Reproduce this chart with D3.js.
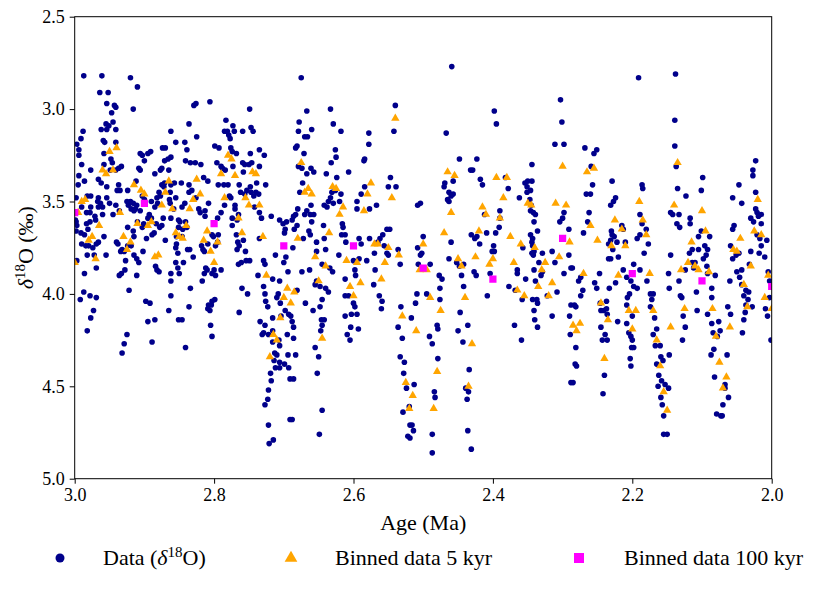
<!DOCTYPE html>
<html>
<head>
<meta charset="utf-8">
<script src="https://cdn.jsdelivr.net/npm/d3@7"></script>
<style>
  body { margin: 0; background: #fff; }
</style>
</head>
<body>
<svg id="chart" width="830" height="591"></svg>
<script>
// raw d18O record: [age (Ma), d18O (permil)]
var rawData = [
  [2.987,2.82],[2.961,2.82],[2.920,2.83],[2.910,2.88],[2.964,2.91],[2.952,2.91],[2.954,2.97],[2.943,2.98],[2.941,2.99],[2.947,3.02],
  [2.916,3.00],[2.945,3.07],[2.955,3.08],[2.951,3.09],[2.962,3.11],[2.954,3.11],[2.941,3.11],[2.988,3.12],[2.862,3.12],[2.991,3.16],
  [2.959,3.17],[2.957,3.18],[2.941,3.18],[2.997,3.19],[2.994,3.22],[2.994,3.25],[2.958,3.24],[2.948,3.27],[2.946,3.29],[2.906,3.24],
  [2.903,3.25],[2.891,3.23],[2.895,3.24],[2.874,3.21],[2.870,3.21],[2.862,3.26],[2.866,3.27],[2.871,3.28],[2.900,3.28],[2.990,3.30],
  [2.933,3.31],[2.937,3.32],[2.908,3.32],[2.906,3.33],[2.941,3.33],[2.949,3.33],[2.958,3.30],[2.977,3.33],[2.885,3.35],[2.877,3.33],
  [2.875,3.32],[2.865,3.33],[2.994,3.36],[2.986,3.39],[2.966,3.38],[2.962,3.40],[2.995,3.41],[2.954,3.42],[2.937,3.41],[2.935,3.44],
  [2.924,3.44],[2.939,3.44],[2.912,3.39],[2.875,3.41],[2.871,3.40],[2.872,3.42],[2.862,3.41],[2.863,3.45],[2.879,3.45],[2.882,3.48],
  [2.903,3.47],[2.900,3.49],[2.920,3.50],[2.916,3.51],[2.925,3.50],[2.923,3.52],[2.911,3.52],[2.919,3.54],[2.913,3.54],[2.915,3.55],
  [2.906,3.55],[2.982,3.47],[2.977,3.47],[2.966,3.48],[2.954,3.48],[2.941,3.52],[2.950,3.51],[2.966,3.53],[2.960,3.53],[2.998,3.48],
  [2.967,3.50],[2.963,3.51],[2.977,3.53],[2.983,3.56],[2.978,3.56],[2.990,3.53],[2.960,3.57],[2.971,3.58],[2.970,3.60],[2.978,3.61],
  [2.983,3.62],[2.981,3.65],[2.998,3.61],[2.997,3.63],[2.991,3.67],[2.986,3.68],[2.877,3.47],[2.864,3.49],[2.863,3.51],[2.890,3.50],
  [2.881,3.51],[2.885,3.53],[2.893,3.57],[2.890,3.59],[2.883,3.62],[2.875,3.63],[2.873,3.59],[2.862,3.59],[2.895,3.59],[2.901,3.62],
  [2.903,3.64],[2.897,3.70],[2.889,3.68],[2.886,3.67],[2.870,3.71],[2.878,3.64],[2.945,3.57],[2.936,3.55],[2.924,3.64],[2.916,3.66],
  [2.910,3.61],[2.915,3.69],[2.919,3.74],[2.932,3.76],[2.934,3.77],[2.929,3.77],[2.924,3.74],[2.940,3.72],[2.938,3.73],[2.958,3.69],
  [2.966,3.72],[2.969,3.73],[2.974,3.75],[2.990,3.73],[2.984,3.74],[2.980,3.74],[2.982,3.79],[2.955,3.79],[2.915,3.79],[2.911,3.81],
  [2.908,3.83],[2.927,3.82],[2.902,3.77],[2.972,3.79],[2.969,3.86],[2.986,3.89],[2.936,3.90],[2.933,3.89],[2.928,3.87],[2.911,3.90],
  [2.884,3.85],[2.882,3.87],[2.879,3.88],[2.862,3.89],[2.862,3.93],[2.922,3.98],[2.987,3.99],[2.992,4.03],[2.978,4.01],[2.969,4.02],
  [2.973,4.09],[2.977,4.13],[2.982,4.20],[2.898,4.04],[2.892,4.05],[2.885,4.14],[2.895,4.15],[2.889,4.26],[2.925,4.22],[2.929,4.27],
  [2.932,4.32],[2.862,4.01],[2.865,4.09],[2.999,3.60],[2.998,3.66],[2.997,3.82],
  [2.829,2.98],[2.826,2.97],[2.806,2.96],[2.749,3.00],[2.836,3.08],[2.783,3.06],[2.773,3.09],[2.785,3.12],[2.781,3.12],[2.779,3.14],
  [2.777,3.16],[2.771,3.12],[2.759,3.12],[2.747,3.10],[2.744,3.12],[2.825,3.15],[2.855,3.18],[2.842,3.18],[2.839,3.22],[2.799,3.20],
  [2.793,3.21],[2.776,3.21],[2.774,3.23],[2.768,3.24],[2.748,3.24],[2.735,3.22],[2.728,3.25],[2.841,3.28],[2.834,3.29],[2.827,3.29],
  [2.819,3.30],[2.796,3.29],[2.790,3.31],[2.788,3.32],[2.784,3.33],[2.773,3.31],[2.759,3.29],[2.756,3.30],[2.750,3.30],[2.746,3.29],
  [2.735,3.31],[2.758,3.34],[2.815,3.37],[2.809,3.39],[2.857,3.40],[2.847,3.40],[2.836,3.41],[2.794,3.41],[2.786,3.41],[2.780,3.41],
  [2.764,3.41],[2.748,3.42],[2.739,3.40],[2.726,3.41],[2.855,3.48],[2.836,3.45],[2.832,3.44],[2.826,3.48],[2.808,3.51],[2.785,3.52],
  [2.778,3.47],[2.776,3.48],[2.770,3.52],[2.770,3.54],[2.762,3.45],[2.753,3.44],[2.747,3.45],[2.756,3.46],[2.743,3.47],[2.740,3.45],
  [2.736,3.46],[2.742,3.53],[2.735,3.56],[2.732,3.59],[2.718,3.58],[2.858,3.54],[2.846,3.53],[2.842,3.51],[2.822,3.54],[2.820,3.56],
  [2.813,3.55],[2.813,3.58],[2.790,3.56],[2.795,3.59],[2.774,3.59],[2.774,3.63],[2.767,3.60],[2.765,3.57],[2.851,3.60],[2.849,3.61],
  [2.845,3.65],[2.841,3.61],[2.839,3.64],[2.851,3.64],[2.854,3.69],[2.846,3.69],[2.854,3.73],[2.855,3.75],[2.852,3.78],[2.838,3.76],
  [2.835,3.76],[2.830,3.80],[2.818,3.74],[2.816,3.76],[2.814,3.77],[2.809,3.73],[2.803,3.68],[2.801,3.69],[2.794,3.68],[2.795,3.72],
  [2.798,3.74],[2.768,3.68],[2.766,3.72],[2.767,3.76],[2.758,3.71],[2.755,3.77],[2.764,3.74],[2.735,3.70],[2.855,3.83],[2.844,3.83],
  [2.852,3.86],[2.850,3.89],[2.812,3.86],[2.810,3.87],[2.814,3.89],[2.800,3.87],[2.803,3.89],[2.798,3.90],[2.790,3.87],[2.817,3.93],
  [2.765,3.84],[2.761,3.83],[2.754,3.82],[2.749,3.82],[2.729,3.82],[2.727,3.84],[2.737,3.90],[2.760,3.97],[2.752,4.00],[2.729,3.96],
  [2.727,4.00],[2.726,4.04],[2.723,4.07],[2.834,3.97],[2.808,4.06],[2.809,4.08],[2.804,4.06],[2.803,4.04],[2.799,4.03],[2.806,4.09],
  [2.836,4.07],[2.851,4.14],[2.846,4.14],[2.764,4.10],[2.734,4.15],[2.727,4.17],[2.729,4.21],[2.731,4.22],[2.722,4.22],[2.805,4.17],
  [2.803,4.23],[2.841,4.29],[2.718,4.47],[2.722,4.52],[2.723,4.57],[2.727,4.60],[2.722,4.71],[2.721,4.81],[2.715,4.79],[2.719,4.43],
  [2.675,2.83],[2.667,3.01],[2.633,3.00],[2.678,3.07],[2.629,3.08],[2.679,3.12],[2.660,3.11],[2.618,3.12],[2.578,3.13],[2.670,3.15],
  [2.666,3.15],[2.681,3.20],[2.683,3.21],[2.626,3.22],[2.671,3.24],[2.625,3.26],[2.578,3.19],[2.584,3.27],[2.585,3.28],[2.632,3.29],
  [2.679,3.31],[2.674,3.32],[2.661,3.32],[2.657,3.34],[2.667,3.35],[2.639,3.35],[2.607,3.34],[2.673,3.40],[2.624,3.37],[2.584,3.42],
  [2.677,3.45],[2.631,3.45],[2.626,3.44],[2.618,3.46],[2.589,3.46],[2.633,3.48],[2.636,3.50],[2.642,3.52],[2.638,3.53],[2.629,3.51],
  [2.620,3.50],[2.595,3.50],[2.595,3.54],[2.577,3.54],[2.661,3.52],[2.667,3.55],[2.657,3.57],[2.670,3.57],[2.662,3.57],[2.680,3.54],
  [2.683,3.57],[2.686,3.58],[2.688,3.60],[2.706,3.60],[2.701,3.62],[2.696,3.61],[2.681,3.63],[2.660,3.61],[2.643,3.63],[2.616,3.62],
  [2.615,3.64],[2.699,3.67],[2.698,3.65],[2.685,3.65],[2.664,3.66],[2.672,3.70],[2.662,3.68],[2.653,3.72],[2.642,3.70],[2.617,3.68],
  [2.612,3.68],[2.611,3.72],[2.592,3.70],[2.589,3.73],[2.577,3.70],[2.687,3.75],[2.712,3.79],[2.697,3.80],[2.700,3.83],[2.653,3.77],
  [2.640,3.76],[2.621,3.79],[2.634,3.86],[2.630,3.88],[2.645,3.84],[2.600,3.82],[2.581,3.82],[2.598,3.87],[2.592,3.81],[2.694,3.88],
  [2.674,3.88],[2.663,3.87],[2.716,3.92],[2.706,3.93],[2.653,3.93],[2.655,3.95],[2.648,3.96],[2.640,3.97],[2.636,3.99],[2.612,3.92],
  [2.597,3.90],[2.708,4.00],[2.710,4.02],[2.705,4.05],[2.681,3.98],[2.698,4.09],[2.693,4.11],[2.690,4.12],[2.704,4.12],[2.669,4.05],
  [2.658,4.09],[2.648,4.07],[2.645,4.03],[2.612,4.01],[2.607,4.01],[2.600,4.05],[2.598,4.07],[2.612,4.12],[2.603,4.11],[2.595,4.11],
  [2.716,4.13],[2.688,4.15],[2.686,4.18],[2.695,4.22],[2.686,4.24],[2.645,4.17],[2.646,4.14],[2.642,4.14],[2.647,4.20],[2.604,4.18],
  [2.593,4.19],[2.609,4.22],[2.605,4.25],[2.716,4.20],[2.716,4.26],[2.707,4.25],[2.706,4.28],[2.713,4.32],[2.710,4.33],[2.714,4.36],
  [2.706,4.37],[2.699,4.38],[2.694,4.33],[2.683,4.33],[2.706,4.40],[2.712,4.40],[2.693,4.40],[2.691,4.46],[2.686,4.46],[2.655,4.29],
  [2.650,4.34],[2.652,4.43],[2.691,4.68],[2.688,4.68],[2.645,4.63],[2.649,4.76],
  [2.459,2.77],[2.540,2.98],[2.542,3.12],[2.467,3.13],[2.448,3.27],[2.432,3.33],[2.547,3.37],[2.550,3.42],[2.539,3.42],[2.469,3.40],
  [2.457,3.39],[2.470,3.42],[2.463,3.45],[2.457,3.46],[2.460,3.47],[2.465,3.49],[2.463,3.50],[2.508,3.52],[2.504,3.51],[2.567,3.52],
  [2.552,3.65],[2.548,3.65],[2.558,3.68],[2.562,3.70],[2.556,3.74],[2.565,3.72],[2.570,3.78],[2.552,3.78],[2.550,3.79],[2.500,3.69],
  [2.508,3.75],[2.502,3.78],[2.504,3.79],[2.536,3.76],[2.533,3.84],[2.507,3.84],[2.490,3.84],[2.460,3.72],[2.463,3.81],[2.452,3.83],
  [2.448,3.85],[2.445,3.90],[2.442,3.84],[2.431,3.68],[2.477,3.90],[2.473,3.92],[2.476,3.97],[2.442,3.96],[2.569,3.87],[2.571,3.95],
  [2.563,4.01],[2.559,4.04],[2.560,4.08],[2.509,4.00],[2.511,4.05],[2.495,4.00],[2.476,4.03],[2.532,4.07],[2.517,4.13],[2.536,4.18],
  [2.530,4.24],[2.480,4.17],[2.479,4.19],[2.491,4.23],[2.487,4.27],[2.450,4.20],[2.447,4.10],[2.436,4.17],[2.443,4.26],[2.533,4.34],
  [2.527,4.37],[2.528,4.43],[2.479,4.35],[2.434,4.41],[2.439,4.51],[2.435,4.53],[2.437,4.57],[2.513,4.49],[2.524,4.51],[2.484,4.53],
  [2.483,4.56],[2.520,4.61],[2.529,4.64],[2.519,4.71],[2.516,4.71],[2.514,4.74],[2.522,4.77],[2.519,4.78],[2.487,4.76],[2.487,4.86],
  [2.436,4.74],[2.431,4.84],
  [2.303,2.95],[2.398,3.01],[2.395,3.08],[2.301,3.07],[2.311,3.19],[2.298,3.19],[2.423,3.27],[2.429,3.33],[2.344,3.30],[2.418,3.38],
  [2.415,3.41],[2.382,3.37],[2.378,3.43],[2.354,3.40],[2.350,3.39],[2.344,3.39],[2.351,3.42],[2.346,3.44],[2.351,3.45],[2.362,3.48],
  [2.347,3.49],[2.345,3.52],[2.346,3.55],[2.342,3.56],[2.339,3.57],[2.341,3.61],[2.336,3.66],[2.346,3.68],[2.390,3.55],[2.390,3.59],
  [2.391,3.64],[2.396,3.67],[2.409,3.67],[2.412,3.57],[2.423,3.69],[2.426,3.70],[2.419,3.73],[2.298,3.56],[2.300,3.59],[2.304,3.61],
  [2.291,3.65],[2.399,3.74],[2.401,3.77],[2.398,3.77],[2.357,3.75],[2.343,3.70],[2.344,3.72],[2.343,3.74],[2.341,3.77],[2.344,3.78],
  [2.342,3.79],[2.329,3.78],[2.315,3.77],[2.311,3.83],[2.291,3.79],[2.334,3.83],[2.341,3.87],[2.329,3.88],[2.331,3.90],[2.365,3.87],
  [2.365,3.89],[2.353,3.92],[2.339,3.93],[2.298,3.89],[2.288,3.86],[2.424,3.90],[2.427,3.88],[2.404,3.89],[2.377,3.96],[2.368,3.98],
  [2.358,4.03],[2.343,4.03],[2.337,4.03],[2.336,4.05],[2.341,4.09],[2.340,4.14],[2.336,4.18],[2.322,4.01],[2.308,3.99],[2.315,4.12],
  [2.290,4.12],[2.289,4.22],[2.369,4.17],[2.359,4.25],[2.408,4.01],[2.288,4.48],[2.288,4.06],
  [2.191,2.83],[2.268,3.21],[2.255,3.24],[2.251,3.22],[2.259,3.31],[2.257,3.41],[2.266,3.46],[2.260,3.46],[2.229,3.39],[2.186,3.41],
  [2.185,3.43],[2.224,3.48],[2.227,3.50],[2.231,3.52],[2.262,3.56],[2.264,3.61],[2.270,3.67],[2.189,3.57],[2.186,3.62],[2.180,3.65],
  [2.189,3.68],[2.193,3.70],[2.177,3.73],[2.183,3.78],[2.215,3.63],[2.213,3.65],[2.210,3.72],[2.230,3.66],[2.229,3.68],[2.226,3.69],
  [2.231,3.71],[2.234,3.73],[2.222,3.72],[2.228,3.76],[2.234,3.81],[2.231,3.81],[2.220,3.80],[2.198,3.84],[2.213,3.87],[2.208,3.91],
  [2.189,3.87],[2.179,3.93],[2.174,4.00],[2.170,4.00],[2.172,4.03],[2.174,4.07],[2.168,4.13],[2.165,4.19],[2.170,4.22],[2.167,4.28],
  [2.160,4.28],[2.159,4.34],[2.156,4.36],[2.165,4.38],[2.147,4.33],[2.162,4.44],[2.158,4.47],[2.163,4.50],[2.153,4.49],[2.148,4.51],
  [2.159,4.56],[2.157,4.60],[2.155,4.66],[2.155,4.76],[2.150,4.76],[2.286,3.86],[2.274,3.91],[2.277,3.93],[2.271,3.98],[2.274,4.01],
  [2.283,4.06],[2.281,4.07],[2.254,3.94],[2.251,3.97],[2.247,3.89],[2.233,3.97],[2.224,3.94],[2.202,3.93],[2.198,3.96],[2.193,3.97],
  [2.204,4.00],[2.207,4.02],[2.208,4.06],[2.200,4.12],[2.208,4.16],[2.205,4.21],[2.202,4.23],[2.200,4.25],[2.201,4.29],[2.198,4.29],
  [2.203,4.35],[2.202,4.39],[2.246,4.05],[2.245,4.09],[2.241,4.09],[2.237,4.04],[2.237,4.08],[2.236,4.11],[2.245,4.18],[2.239,4.22],
  [2.236,4.25],[2.243,4.25],[2.281,4.29],[2.282,4.38],[2.280,4.39],[2.285,4.48],[2.221,4.15],[2.240,4.44],[2.242,4.54],[2.148,3.89],
  [2.147,3.97],[2.145,3.56],[2.145,3.79],
  [2.138,2.81],[2.139,3.06],[2.139,3.20],[2.137,3.31],[2.099,3.37],[2.101,3.44],[2.135,3.43],[2.123,3.47],[2.142,3.57],[2.133,3.57],
  [2.136,3.62],[2.132,3.64],[2.117,3.59],[2.117,3.62],[2.105,3.69],[2.101,3.66],[2.089,3.69],[2.096,3.74],[2.094,3.79],[2.092,3.76],
  [2.098,3.81],[2.118,3.78],[2.114,3.76],[2.105,3.76],[2.124,3.87],[2.114,3.83],[2.110,3.83],[2.112,3.86],[2.093,3.85],[2.092,3.89],
  [2.081,3.90],[2.086,3.97],[2.133,3.93],[2.131,4.01],[2.129,4.02],[2.127,4.12],[2.108,3.99],[2.107,4.09],[2.092,4.11],[2.086,4.02],
  [2.086,4.16],[2.076,4.15],[2.074,4.20],[2.084,4.21],[2.078,4.23],[2.083,4.30],[2.087,4.33],[2.064,4.33],[2.082,4.45],[2.067,4.49],
  [2.067,4.51],[2.062,4.56],[2.070,4.60],[2.079,4.65],[2.073,4.66],[2.071,4.66],[2.124,4.18],[2.128,4.25],[2.023,3.28],[2.027,3.33],
  [2.027,3.36],[2.047,3.41],[2.023,3.45],[2.056,3.48],[2.043,3.51],[2.054,3.63],[2.056,3.65],[2.023,3.54],[2.021,3.56],[2.015,3.57],
  [2.019,3.58],[2.026,3.61],[2.015,3.62],[2.030,3.59],[2.021,3.68],[2.017,3.70],[2.007,3.71],[2.015,3.74],[2.018,3.78],[2.010,3.80],
  [2.030,3.77],[2.059,3.74],[2.056,3.81],[2.051,3.79],[2.047,3.78],[2.050,3.88],[2.043,3.87],[2.046,3.91],[2.060,3.93],[2.043,3.95],
  [2.037,3.98],[2.033,3.99],[2.040,4.01],[2.034,4.03],[2.037,4.06],[2.028,4.07],[2.038,4.10],[2.040,4.14],[2.042,4.21],[2.032,3.84],
  [2.005,3.88],[2.003,3.93],[2.009,4.08],[2.006,4.12],[2.003,4.02],[2.001,4.25],[2.063,4.07],[2.059,4.11]
];

// 5 kyr bins: [age (Ma), mean d18O]
var binned5 = [
  [3.000,3.83],[2.995,3.56],[2.990,3.50],[2.985,3.49],[2.980,3.71],[2.975,3.69],[2.970,3.81],[2.965,3.63],[2.960,3.33],[2.955,3.35],
  [2.950,3.23],[2.945,3.33],[2.940,3.21],[2.935,3.56],[2.930,3.69],[2.925,3.76],[2.920,3.72],[2.915,3.41],[2.910,3.62],[2.905,3.44],
  [2.900,3.46],[2.895,3.63],[2.890,3.61],[2.885,3.80],[2.880,3.79],[2.875,3.52],[2.870,3.45],[2.865,3.39],[2.860,3.54],[2.855,3.67],
  [2.850,3.69],[2.845,3.70],[2.840,3.63],[2.835,3.54],[2.830,3.49],[2.825,3.38],[2.820,3.46],[2.815,3.71],[2.810,3.66],[2.805,3.77],
  [2.800,3.83],[2.795,3.72],[2.790,3.35],[2.785,3.48],[2.780,3.25],[2.775,3.27],[2.770,3.36],[2.765,3.59],[2.760,3.67],[2.755,3.48],
  [2.750,3.52],[2.745,3.34],[2.740,3.35],[2.735,3.52],[2.730,3.69],[2.725,3.90],[2.720,4.34],[2.715,4.22],[2.710,4.25],[2.705,4.13],
  [2.700,4.02],[2.695,3.97],[2.690,4.05],[2.685,3.99],[2.680,3.70],[2.675,3.29],[2.670,3.45],[2.665,3.43],[2.660,3.46],[2.655,3.80],
  [2.650,3.93],[2.645,4.24],[2.640,3.85],[2.635,3.67],[2.630,3.42],[2.625,3.43],[2.620,3.57],[2.615,3.53],[2.610,3.82],[2.605,3.96],
  [2.600,4.01],[2.595,3.83],[2.590,3.94],[2.585,3.55],[2.580,3.46],[2.575,3.40],[2.570,3.73],[2.565,3.73],[2.560,3.92],[2.555,3.83],
  [2.550,3.75],[2.545,3.48],[2.540,3.05],[2.535,3.79],[2.530,4.12],[2.525,4.48],[2.520,4.62],[2.515,4.55],[2.510,4.20],[2.505,3.87],
  [2.500,3.73],[2.495,3.87],[2.490,4.02],[2.485,4.62],[2.480,4.42],[2.475,4.09],[2.470,3.67],[2.465,3.34],[2.460,3.56],[2.455,3.36],
  [2.450,3.81],[2.445,3.85],[2.440,4.02],[2.435,4.50],[2.430,4.27],[2.425,3.80],[2.420,3.66],[2.415,3.53],[2.410,3.57],[2.405,3.84],
  [2.400,3.81],[2.395,3.37],[2.390,3.59],[2.385,3.48],[2.380,3.37],[2.375,3.69],[2.370,3.83],[2.365,3.98],[2.360,3.73],[2.355,4.01],
  [2.350,3.51],[2.345,3.52],[2.340,3.75],[2.335,3.96],[2.330,3.87],[2.325,3.83],[2.320,4.01],[2.315,3.94],[2.310,3.51],[2.305,3.80],
  [2.300,3.31],[2.295,3.52],[2.290,3.72],[2.285,4.17],[2.280,4.20],[2.275,4.16],[2.270,3.89],[2.265,3.34],[2.260,3.63],[2.255,3.32],
  [2.250,3.71],[2.245,4.05],[2.240,4.35],[2.235,4.14],[2.230,3.74],[2.225,3.60],[2.220,3.90],[2.215,3.65],[2.210,3.74],[2.205,4.09],
  [2.200,4.19],[2.195,4.09],[2.190,3.50],[2.185,3.60],[2.180,3.68],[2.175,3.89],[2.170,4.09],[2.165,4.25],[2.160,4.39],[2.155,4.53],
  [2.150,4.63],[2.145,4.18],[2.140,3.52],[2.135,3.29],[2.130,3.87],[2.125,4.08],[2.120,3.83],[2.115,3.72],[2.110,3.85],[2.105,3.87],
  [2.100,3.55],[2.095,3.66],[2.090,3.88],[2.085,4.08],[2.080,4.23],[2.075,4.37],[2.070,4.51],[2.065,4.45],[2.060,4.18],[2.055,3.76],
  [2.050,3.77],[2.045,3.70],[2.040,3.95],[2.035,4.07],[2.030,3.85],[2.025,3.66],[2.020,3.49],[2.015,3.68],[2.010,4.02],[2.005,3.90],
  [2.000,4.08]
];

// 100 kyr bins
var binned100Age = [3.0, 2.9, 2.8, 2.7, 2.6, 2.5, 2.4, 2.3, 2.2, 2.1, 2.0];
var binned100Value = [3.56, 3.51, 3.62, 3.74, 3.74, 3.86, 3.92, 3.70, 3.89, 3.93, 3.96];

var xTicks = [3.0, 2.8, 2.6, 2.4, 2.2, 2.0];
var yTicks = [2.5, 3.0, 3.5, 4.0, 4.5, 5.0];

var FONT = '"Liberation Serif", "DejaVu Serif", "Times New Roman", serif';
var margin = {left: 74.7, right: 771.7, top: 16.7, bottom: 478.7};

var svg = d3.select('#chart');

var x = d3.scaleLinear().domain([3.0, 2.0]).range([margin.left, margin.right]),
    y = d3.scaleLinear().domain([2.5, 5.0]).range([margin.top, margin.bottom]);

svg.append('rect').attr('width', 830).attr('height', 591).attr('fill', '#fff');

svg.append('clipPath').attr('id', 'plot-clip')
  .append('rect')
  .attr('x', margin.left).attr('y', margin.top)
  .attr('width', margin.right - margin.left)
  .attr('height', margin.bottom - margin.top);

var plot = svg.append('g').attr('clip-path', 'url(#plot-clip)');

plot.selectAll('circle.raw')
  .data(rawData)
  .enter().append('circle')
  .attr('class', 'raw')
  .attr('cx', function(d) { return x(d[0]); })
  .attr('cy', function(d) { return y(d[1]); })
  .attr('r', 2.8)
  .attr('fill', '#00008b');

var triangle = d3.symbol().type(d3.symbolTriangle).size(30),
    square = d3.symbol().type(d3.symbolSquare).size(52);

plot.selectAll('path.bin5')
  .data(binned5)
  .enter().append('path')
  .attr('class', 'bin5')
  .attr('d', triangle)
  .attr('transform', function(d) { return 'translate(' + x(d[0]) + ',' + y(d[1]) + ')'; })
  .attr('fill', '#ffa500');

plot.selectAll('path.bin100')
  .data(binned100Age)
  .enter().append('path')
  .attr('class', 'bin100')
  .attr('d', square)
  .attr('transform', function(d, i) { return 'translate(' + x(d) + ',' + y(binned100Value[i]) + ')'; })
  .attr('fill', '#ff00ff');

// axes
var xAxis = d3.axisBottom(x).tickValues(xTicks).tickFormat(d3.format('.1f')).tickSize(5).tickPadding(5),
    yAxis = d3.axisLeft(y).tickValues(yTicks).tickFormat(d3.format('.1f')).tickSize(5).tickPadding(5);

var gx = svg.append('g').attr('transform', 'translate(0,' + margin.bottom + ')').call(xAxis),
    gy = svg.append('g').attr('transform', 'translate(' + margin.left + ',0)').call(yAxis);

[gx, gy].forEach(function(g) {
  g.attr('font-family', null).attr('font-size', null);
  g.select('.domain').remove();
  g.selectAll('line').attr('stroke', '#000').attr('stroke-width', 1);
  g.selectAll('text').style('font-family', FONT).style('font-size', '18px').attr('fill', '#000');
});

svg.append('rect')
  .attr('x', margin.left).attr('y', margin.top)
  .attr('width', margin.right - margin.left)
  .attr('height', margin.bottom - margin.top)
  .attr('fill', 'none').attr('stroke', '#000').attr('stroke-width', 1);

svg.append('text')
  .attr('x', (margin.left + margin.right) / 2).attr('y', 530)
  .attr('text-anchor', 'middle')
  .style('font-family', FONT).style('font-size', '22px')
  .text('Age (Ma)');

var ylab = svg.append('text')
  .attr('transform', 'translate(33,' + ((margin.top + margin.bottom) / 2) + ') rotate(-90)')
  .attr('text-anchor', 'middle')
  .style('font-family', FONT).style('font-size', '22px');
ylab.append('tspan').style('font-style', 'italic').text('δ');
ylab.append('tspan').attr('dy', -8).style('font-size', '15px').text('18');
ylab.append('tspan').attr('dy', 8).text('O (‰)');

// legend
var legend = svg.append('g').attr('transform', 'translate(0,558)');

legend.append('circle').attr('cx', 60).attr('cy', 0).attr('r', 4.5).attr('fill', '#00008b');
legend.append('path').attr('d', d3.symbol().type(d3.symbolTriangle).size(70))
  .attr('transform', 'translate(291,0)').attr('fill', '#ffa500');
legend.append('path').attr('d', d3.symbol().type(d3.symbolSquare).size(100))
  .attr('transform', 'translate(579,0)').attr('fill', '#ff00ff');

var lt = legend.append('text').attr('x', 103).attr('y', 7)
  .style('font-family', FONT).style('font-size', '22px');
lt.append('tspan').text('Data (');
lt.append('tspan').style('font-style', 'italic').text('δ');
lt.append('tspan').attr('dy', -8).style('font-size', '15px').text('18');
lt.append('tspan').attr('dy', 8).text('O)');

legend.append('text').attr('x', 335).attr('y', 7)
  .style('font-family', FONT).style('font-size', '22px').text('Binned data 5 kyr');
legend.append('text').attr('x', 624).attr('y', 7)
  .style('font-family', FONT).style('font-size', '22px').text('Binned data 100 kyr');
</script>
</body>
</html>
